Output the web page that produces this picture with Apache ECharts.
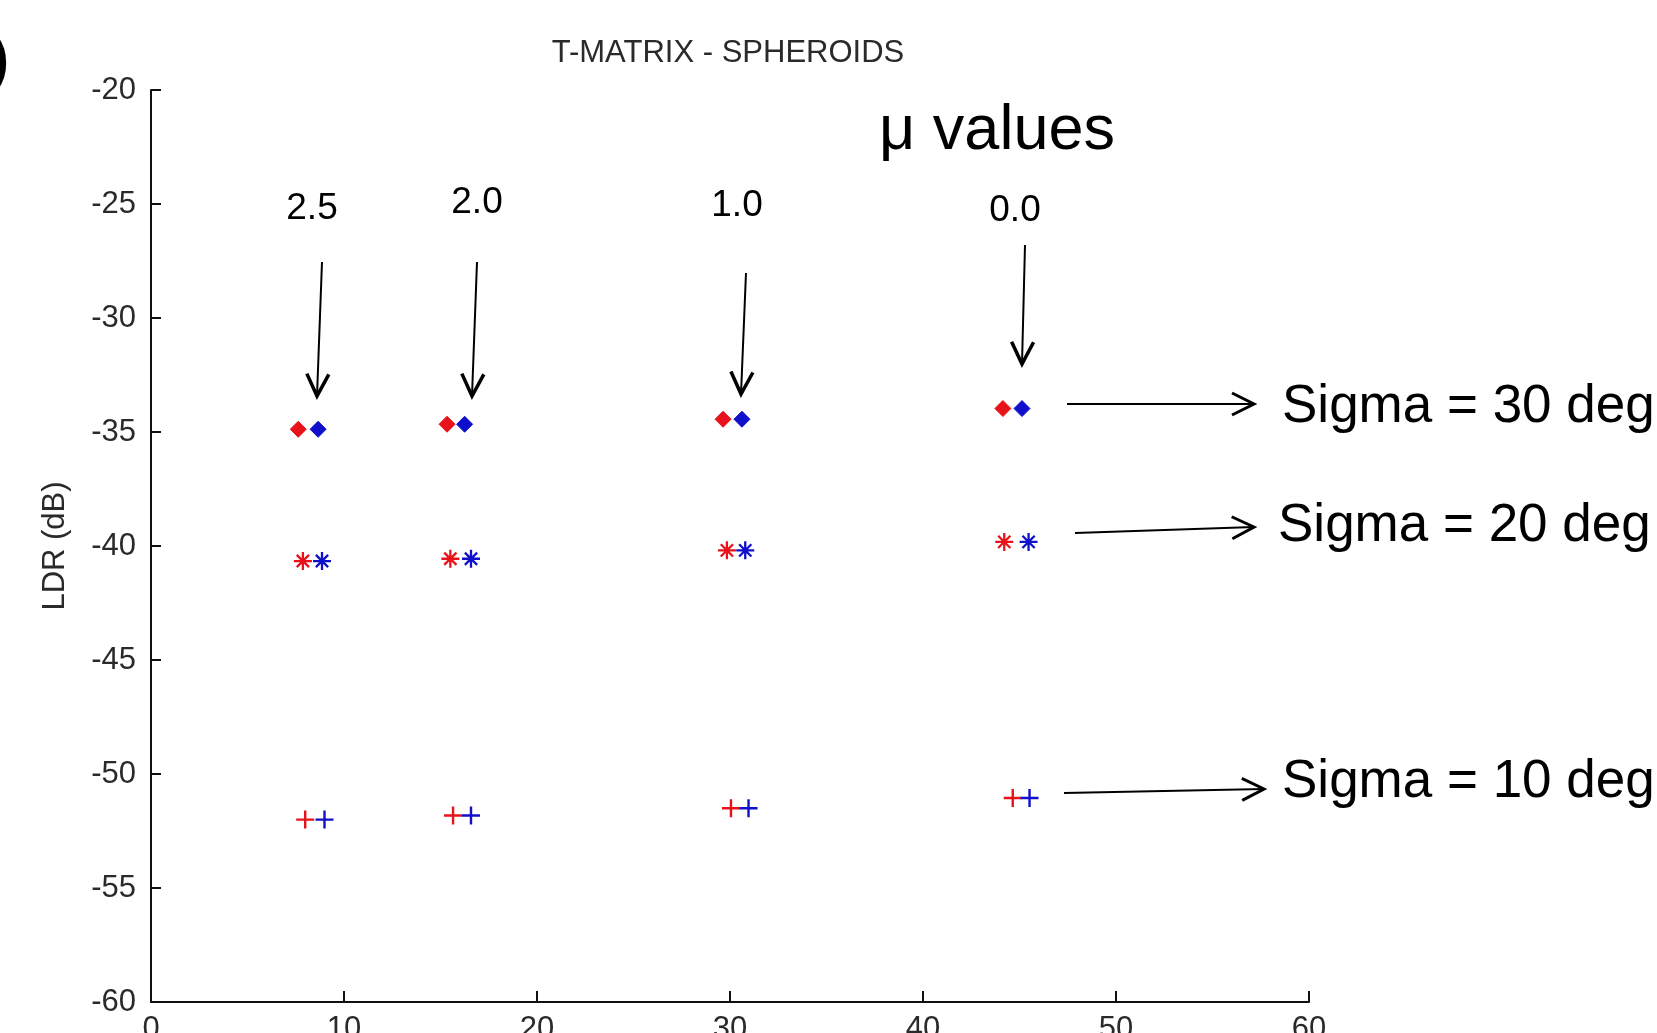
<!DOCTYPE html>
<html>
<head>
<meta charset="utf-8">
<script src="https://cdn.jsdelivr.net/npm/echarts@6/dist/echarts.min.js"></script>
<style>
html,body{margin:0;padding:0;background:#fff;overflow:hidden;}
#chart{width:1657px;height:1033px;}
</style>
</head>
<body>
<div id="chart"></div>
<script>
// ---- data ----
const xTicks = [0, 10, 20, 30, 40, 50, 60];
const yTicks = [-60, -55, -50, -45, -40, -35, -30, -25, -20];
const muLabels = ['2.5', '2.0', '1.0', '0.0'];
const sigmaLabels = ['Sigma = 30 deg', 'Sigma = 20 deg', 'Sigma = 10 deg'];

const xRed30  = [7.63, 15.34, 29.64, 44.14];
const xBlue30 = [8.66, 16.25, 30.62, 45.13];
const y30     = [-34.88, -34.66, -34.44, -33.97];

const xRed20  = [7.87, 15.51, 29.84, 44.21];
const xBlue20 = [8.86, 16.58, 30.79, 45.47];
const y20     = [-40.66, -40.56, -40.19, -39.82];

const xRed10  = [7.99, 15.65, 30.05, 44.65];
const xBlue10 = [8.99, 16.58, 30.96, 45.52];
const y10     = [-52.00, -51.82, -51.50, -51.05];

function pairs(xs, ys) { return xs.map((x, i) => [x, ys[i]]); }

const RED = '#e8121a', BLUE = '#1010cc';
const STAR = 'path://M5,0L5,10M0,5L10,5M1.6,1.6L8.4,8.4M8.4,1.6L1.6,8.4';
const PLUS = 'path://M5,0L5,10M0,5L10,5';

function scatter(name, data, color, symbol, size, stroke) {
  const s = {
    name: name, type: 'scatter', data: data, symbol: symbol, symbolSize: size,
    itemStyle: { color: color, opacity: 1 },
    emphasis: { disabled: true }, z: 5
  };
  if (stroke) { s.itemStyle.borderColor = color; s.itemStyle.borderWidth = stroke; }
  return s;
}

// ---- annotation helpers (pixel layout) ----
function arrow(x1, y1, x2, y2, hl, hw, lw, hlw) {
  const dx = x2 - x1, dy = y2 - y1, L = Math.hypot(dx, dy);
  const ux = dx / L, uy = dy / L, px = -uy, py = ux;
  const bx = x2 - ux * hl, by = y2 - uy * hl;
  return [
    { type: 'polyline', shape: { points: [[x1, y1], [x2, y2]] }, style: { stroke: '#000', lineWidth: lw, fill: null } },
    { type: 'polyline', shape: { points: [[bx + px * hw, by + py * hw], [x2, y2], [bx - px * hw, by - py * hw]] },
      style: { stroke: '#000', lineWidth: hlw, fill: null, lineJoin: 'miter' } }
  ];
}
function txt(s, x, y, size, align) {
  return { type: 'text', x: x, y: y,
    style: { text: s, font: size + 'px "Liberation Sans", Arial, sans-serif', fill: '#000', align: align || 'center', verticalAlign: 'middle' } };
}

const AXIS_FONT = '"Liberation Sans", Arial, sans-serif';
const AXIS_COLOR = '#2a2a2a';

const graphics = [].concat(
  [txt(')', 9, 62, 58, 'right')],
  [txt('μ values', 997, 132, 63, 'center')],
  [txt(muLabels[0], 312, 209, 37), txt(muLabels[1], 477, 203, 37), txt(muLabels[2], 737, 206, 37), txt(muLabels[3], 1015, 211, 37)],
  arrow(322, 262, 317, 396, 22, 11, 2, 3.5),
  arrow(477, 262, 472, 396, 22, 11, 2, 3.5),
  arrow(746, 273, 741, 394, 22, 11, 2, 3.5),
  arrow(1025, 245, 1022, 364, 22, 11, 2, 3.5),
  arrow(1067, 404, 1254, 404, 22, 11, 2, 3),
  arrow(1075, 533, 1254, 527, 22, 11, 2, 3),
  arrow(1064, 793, 1264, 789, 22, 11, 2, 3),
  [txt(sigmaLabels[0], 1282, 407, 53, 'left'), txt(sigmaLabels[1], 1278, 526, 53, 'left'), txt(sigmaLabels[2], 1282, 782, 53, 'left')]
);
graphics.forEach(g => { g.z = 50; g.silent = true; });
graphics[0].style.font = 'bold 58px "Liberation Sans", Arial, sans-serif';

const chart = echarts.init(document.getElementById('chart'), null, { renderer: 'canvas' });
chart.setOption({
  backgroundColor: '#ffffff',
  animation: false,
  title: {
    text: 'T-MATRIX - SPHEROIDS', left: 723, top: 33, textAlign: 'center',
    textStyle: { fontFamily: AXIS_FONT, fontSize: 31, fontWeight: 'normal', color: AXIS_COLOR }
  },
  grid: { left: 151, right: 348, top: 90, bottom: 31, containLabel: false, outerBoundsMode: 'none' },
  xAxis: {
    type: 'value', min: xTicks[0], max: xTicks[xTicks.length - 1], interval: 10,
    axisLine: { show: true, onZero: false, lineStyle: { color: '#111', width: 2 } },
    axisTick: { show: true, inside: true, length: 11, lineStyle: { color: '#111', width: 2 } },
    axisLabel: { margin: 12, fontFamily: AXIS_FONT, fontSize: 31, color: AXIS_COLOR, showMinLabel: true, showMaxLabel: true },
    splitLine: { show: false }
  },
  yAxis: {
    type: 'value', min: yTicks[0], max: yTicks[yTicks.length - 1], interval: 5,
    name: 'LDR (dB)', nameLocation: 'middle', nameRotate: 90, nameGap: 80,
    nameTextStyle: { fontFamily: AXIS_FONT, fontSize: 31, color: AXIS_COLOR },
    axisLine: { show: true, onZero: false, lineStyle: { color: '#111', width: 2 } },
    axisTick: { show: true, inside: true, length: 10, lineStyle: { color: '#111', width: 2 } },
    axisLabel: { margin: 15, fontFamily: AXIS_FONT, fontSize: 31, color: AXIS_COLOR, showMinLabel: true, showMaxLabel: true },
    splitLine: { show: false }
  },
  series: [
    scatter('Sigma 30 (red)', pairs(xRed30, y30), RED, 'diamond', [16, 16], 1),
    scatter('Sigma 30 (blue)', pairs(xBlue30, y30), BLUE, 'diamond', [16, 16], 1),
    scatter('Sigma 20 (red)', pairs(xRed20, y20), RED, STAR, 18, 2.3),
    scatter('Sigma 20 (blue)', pairs(xBlue20, y20), BLUE, STAR, 18, 2.3),
    scatter('Sigma 10 (red)', pairs(xRed10, y10), RED, PLUS, 18, 2.4),
    scatter('Sigma 10 (blue)', pairs(xBlue10, y10), BLUE, PLUS, 18, 2.4)
  ],
  graphic: graphics
});
</script>
</body>
</html>
